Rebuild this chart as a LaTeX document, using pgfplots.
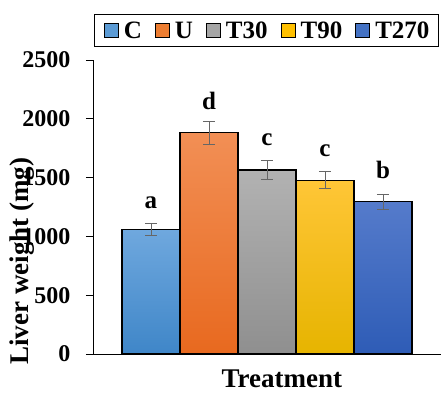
\documentclass[border=0pt]{standalone}
\usepackage{pgfplots}
\pgfplotsset{compat=1.18}
\usepackage{fontspec}
\setmainfont{Liberation Serif}
\definecolor{cAt}{HTML}{6FA8DE}\definecolor{cAb}{HTML}{3F86C8}
\definecolor{cBt}{HTML}{F28F55}\definecolor{cBb}{HTML}{E8691F}
\definecolor{cCt}{HTML}{B2B2B2}\definecolor{cCb}{HTML}{8F8F8F}
\definecolor{cDt}{HTML}{FFC637}\definecolor{cDb}{HTML}{E6B400}
\definecolor{cEt}{HTML}{557BCB}\definecolor{cEb}{HTML}{2E5CB6}
\definecolor{cA}{HTML}{5B9BD5}\definecolor{cB}{HTML}{ED7D31}
\definecolor{cC}{HTML}{A5A5A5}\definecolor{cD}{HTML}{FFC000}
\definecolor{cE}{HTML}{4472C4}
\definecolor{errc}{HTML}{666666}
\begin{document}
\begin{tikzpicture}
\path[use as bounding box] (-93pt,-40pt) rectangle (348pt,354pt);
\begin{axis}[
  at={(0pt,0pt)}, anchor=south west,
  scale only axis, width=348pt, height=294pt,
  xmin=-1, xmax=5, ymin=0, ymax=2500,
  axis x line=bottom, axis y line=left,
  axis line style={-, line width=0.9pt, black},
  xtick=\empty, ytick={0,500,1000,1500,2000,2500},
  tick align=outside, major tick length=7pt,
  tick style={black, line width=0.9pt},
  /pgf/number format/assume math mode=true,
  /pgf/number format/1000 sep={},
  yticklabel style={font=\fontsize{24}{24}\selectfont\bfseries, xshift=-12pt},
  ylabel={Liver weight (mg)},
  ylabel style={at={(rel axis cs:-0.204,0.316)}, anchor=center, font=\fontsize{27}{27}\selectfont\bfseries},
  xlabel={Treatment},
  xlabel style={at={(rel axis cs:0.543,-0.086)}, anchor=center, inner sep=0pt, font=\fontsize{27}{27}\selectfont\bfseries},
  legend columns=5,
  legend image code/.code={\draw[#1,draw=black,line width=1pt] (0pt,-7pt) rectangle (14pt,7pt);},
  legend style={at={(rel axis cs:0.499,1.100)}, anchor=center, draw=black, line width=1pt,
    font=\fontsize{25}{25}\selectfont\bfseries, inner xsep=9pt, inner ysep=5pt,
    nodes={inner xsep=0pt},
    /tikz/every odd column/.append style={column sep=5pt},
    /tikz/every even column/.append style={column sep=13pt}},
  clip=false,
]
\addplot[ybar, bar width=1, bar shift=0pt, draw=black, line width=1.3pt, top color=cAt, bottom color=cAb, forget plot,
  error bars/.cd, y dir=both, y explicit,
  error bar style={line width=0.9pt, color=errc},
  error mark options={rotate=90, mark size=6pt, line width=0.9pt, color=errc}]
  coordinates {(0,1060) +- (0,51)};
\addplot[ybar, bar width=1, bar shift=0pt, draw=black, line width=1.3pt, top color=cBt, bottom color=cBb, forget plot,
  error bars/.cd, y dir=both, y explicit,
  error bar style={line width=0.9pt, color=errc},
  error mark options={rotate=90, mark size=6pt, line width=0.9pt, color=errc}]
  coordinates {(1,1882) +- (0,99)};
\addplot[ybar, bar width=1, bar shift=0pt, draw=black, line width=1.3pt, top color=cCt, bottom color=cCb, forget plot,
  error bars/.cd, y dir=both, y explicit,
  error bar style={line width=0.9pt, color=errc},
  error mark options={rotate=90, mark size=6pt, line width=0.9pt, color=errc}]
  coordinates {(2,1565) +- (0,77)};
\addplot[ybar, bar width=1, bar shift=0pt, draw=black, line width=1.3pt, top color=cDt, bottom color=cDb, forget plot,
  error bars/.cd, y dir=both, y explicit,
  error bar style={line width=0.9pt, color=errc},
  error mark options={rotate=90, mark size=6pt, line width=0.9pt, color=errc}]
  coordinates {(3,1478) +- (0,71)};
\addplot[ybar, bar width=1, bar shift=0pt, draw=black, line width=1.3pt, top color=cEt, bottom color=cEb, forget plot,
  error bars/.cd, y dir=both, y explicit,
  error bar style={line width=0.9pt, color=errc},
  error mark options={rotate=90, mark size=6pt, line width=0.9pt, color=errc}]
  coordinates {(4,1295) +- (0,65)};
% significance letters
\addplot[draw=none, mark=none, forget plot, point meta=explicit symbolic,
  nodes near coords, nodes near coords style={anchor=base, font=\fontsize{25}{25}\selectfont\bfseries, inner sep=0pt}]
  coordinates {(0,1241)[a] (1,2083)[d] (2,1777)[c] (3,1678)[c] (4,1494)[b]};
\addlegendimage{fill=cA}\addlegendentry{C}
\addlegendimage{fill=cB}\addlegendentry{U}
\addlegendimage{fill=cC}\addlegendentry{T30}
\addlegendimage{fill=cD}\addlegendentry{T90}
\addlegendimage{fill=cE}\addlegendentry{T270}
\end{axis}
\end{tikzpicture}
\end{document}
